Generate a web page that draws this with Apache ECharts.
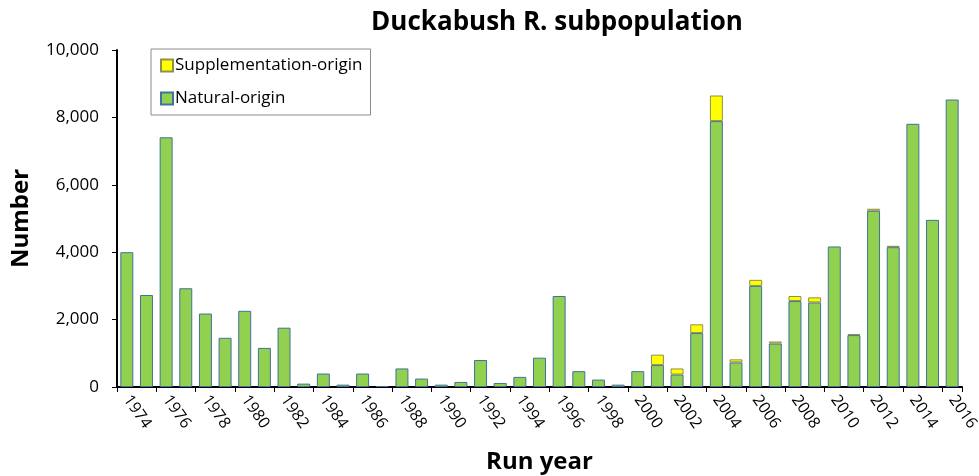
<!DOCTYPE html>
<html>
<head>
<meta charset="utf-8">
<script src="https://cdn.jsdelivr.net/npm/echarts@6/dist/echarts.min.js"></script>
<style>
  html, body { margin: 0; padding: 0; background: #fff; }
  #main { width: 979px; height: 476px; }
</style>
</head>
<body>
<div id="main"></div>
<script>
// run years 1974..2016
const years = [];
for (let y = 1974; y <= 2016; y++) years.push(String(y));

const natural = [
  4000, 2730, 7410, 2930, 2180, 1460, 2260, 1160, 1760, 100, 400, 70, 400, 30, 550, 250,
  70, 150, 800, 120, 300, 870, 2700, 470, 220, 70, 470, 650, 370, 1600,
  7890, 730, 3000, 1290, 2550, 2510, 4170, 1540, 5230, 4150, 7810, 4960, 8530
];

const supplementation = [
  0, 0, 0, 0, 0, 0, 0, 0, 0, 0, 0, 0, 0, 0, 0, 0,
  0, 0, 0, 0, 0, 0, 0, 0, 0, 0, 0, 310, 180, 260,
  760, 90, 180, 60, 150, 150, 0, 30, 60, 40, 0, 0, 0
];

const yTicks = [0, 2000, 4000, 6000, 8000, 10000];

const font = "'Open Sans', 'Noto Sans', sans-serif";

var myChart = echarts.init(document.getElementById("main"));

var option = {
  backgroundColor: "#fff",
  textStyle: { fontFamily: font, color: "#000" },
  title: {
    text: "Duckabush R. subpopulation",
    left: 552,
    top: 5,
    textAlign: "center",
    textStyle: { fontFamily: font, fontSize: 26, fontWeight: "bold", color: "#000" },
  },
  legend: {
    orient: "vertical",
    left: 151,
    top: 49,
    padding: [8, 8, 8, 9],
    itemWidth: 12,
    itemHeight: 12,
    itemGap: 16,
    borderColor: "#8c8c8c",
    borderWidth: 1,
    icon: "rect",
    data: ["Supplementation-origin", "Natural-origin"],
    textStyle: { fontFamily: font, fontSize: 17, color: "#000", padding: [0, 0, 0, -3] },
  },
  grid: { left: 117, right: 17, top: 50, bottom: 89, outerBoundsMode: "none" },
  xAxis: {
    type: "category",
    data: years,
    name: "Run year",
    nameLocation: "middle",
    nameGap: 63,
    nameTextStyle: { fontFamily: font, fontSize: 24, fontWeight: "bold", color: "#000" },
    axisLine: { lineStyle: { color: "#000", width: 2 } },
    axisTick: { show: true, length: 5, lineStyle: { color: "#000" } },
    axisLabel: {
      interval: 1,
      rotate: -55,
      fontFamily: font,
      fontSize: 16,
      color: "#000",
      margin: 10,
    },
    splitLine: { show: false },
  },
  yAxis: {
    type: "value",
    min: yTicks[0],
    max: yTicks[yTicks.length - 1],
    interval: 2000,
    name: "Number",
    nameLocation: "middle",
    nameGap: 84,
    nameRotate: 90,
    nameTextStyle: { fontFamily: font, fontSize: 24, fontWeight: "bold", color: "#000" },
    axisLine: { show: true, lineStyle: { color: "#000", width: 2 } },
    axisTick: { show: true, length: 5, lineStyle: { color: "#000" } },
    axisLabel: {
      fontFamily: font,
      fontSize: 17,
      color: "#000",
      margin: 18,
      formatter: (v) => v.toLocaleString("en-US"),
    },
    splitLine: { show: false },
  },
  series: [
    {
      name: "Natural-origin",
      type: "bar",
      stack: "total",
      data: natural,
      barCategoryGap: "34%",
      itemStyle: { color: "#92D050", borderColor: "#41719C", borderWidth: 1 },
    },
    {
      name: "Supplementation-origin",
      type: "bar",
      stack: "total",
      // no hatchery fish that year -> no segment drawn
      data: supplementation.map((v) => (v > 0 ? v : "-")),
      barCategoryGap: "34%",
      itemStyle: { color: "#FFFF00", borderColor: "#8f8f4a", borderWidth: 1 },
    },
  ],
};

option && myChart.setOption(option);
</script>
</body>
</html>
